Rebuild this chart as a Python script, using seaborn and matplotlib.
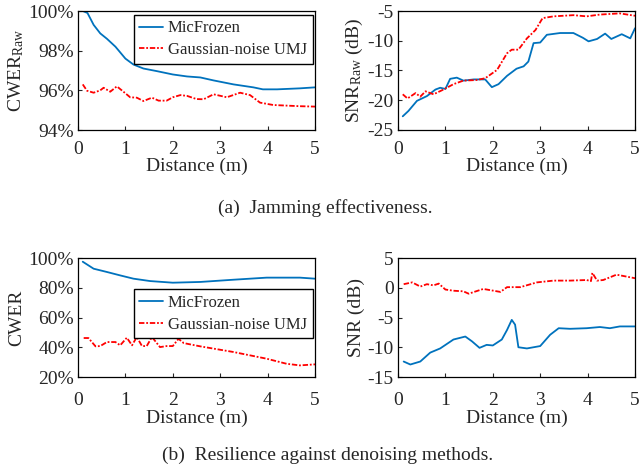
import pandas as pd
import matplotlib
matplotlib.use("Agg")
import matplotlib.pyplot as plt
import matplotlib.ticker as mtick
import seaborn as sns

# (a) jamming effectiveness - CWER_raw
mf_x_a = [0.1, 0.2, 0.33, 0.47, 0.61, 0.79, 1.0, 1.17, 1.38, 1.66, 2.0, 2.3, 2.58, 2.86, 3.28, 3.7, 3.9, 4.2, 4.68, 5.0]
mf_y_a = [100.0, 99.9, 99.3, 98.87, 98.6, 98.2, 97.6, 97.3, 97.1, 96.97, 96.8, 96.7, 96.65, 96.5, 96.3, 96.15, 96.05, 96.05, 96.1, 96.15]
ug_x_a = [0.1, 0.19, 0.33, 0.47, 0.54, 0.68, 0.82, 1.0, 1.1, 1.24, 1.38, 1.56, 1.7, 1.87, 2.0, 2.16, 2.3, 2.5, 2.65,
          2.86, 3.14, 3.42, 3.63, 3.84, 4.12, 4.68, 5.0]
ug_y_a = [96.3, 95.98, 95.88, 96.0, 96.13, 95.93, 96.2, 95.85, 95.65, 95.63, 95.46, 95.63, 95.48, 95.48, 95.65, 95.76,
          95.72, 95.56, 95.55, 95.8, 95.65, 95.88, 95.76, 95.38, 95.26, 95.2, 95.18]

# (a) SNR_raw
mf_x_b = [0.1, 0.22, 0.4, 0.61, 0.79, 0.89, 1.0, 1.1, 1.24, 1.38, 1.6, 1.84, 1.98, 2.12, 2.3, 2.5, 2.65, 2.75, 2.86,
          3.0, 3.14, 3.42, 3.7, 3.9, 4.02, 4.2, 4.37, 4.5, 4.72, 4.9, 5.0]
mf_y_b = [-22.7, -21.8, -20.1, -19.3, -18.2, -17.9, -18.1, -16.4, -16.2, -16.7, -16.5, -16.5, -17.8, -17.3, -15.9,
          -14.7, -14.3, -13.5, -10.4, -10.3, -9.0, -8.7, -8.7, -9.5, -10.1, -9.7, -8.8, -9.7, -8.9, -9.6, -7.9]
ug_x_b = [0.1, 0.2, 0.37, 0.47, 0.58, 0.75, 0.96, 1.17, 1.38, 1.66, 1.84, 2.09, 2.3, 2.4, 2.54, 2.72, 2.9, 3.05,
          3.28, 3.7, 3.98, 4.26, 4.68, 5.0]
ug_y_b = [-19.0, -19.7, -18.8, -19.4, -18.5, -19.0, -18.2, -17.3, -16.7, -16.6, -16.3, -14.9, -12.1, -11.5, -11.5,
          -9.6, -8.2, -6.2, -5.9, -5.7, -5.9, -5.6, -5.4, -5.8]

# (b) resilience - CWER
mf_x_c = [0.1, 0.33, 0.61, 0.89, 1.17, 1.52, 2.0, 2.58, 3.28, 3.98, 4.68, 5.0]
mf_y_c = [97.5, 92.8, 90.6, 88.3, 86.1, 84.5, 83.4, 83.9, 85.4, 86.8, 86.8, 86.1]
ug_x_c = [0.12, 0.22, 0.37, 0.47, 0.61, 0.79, 0.89, 1.03, 1.14, 1.24, 1.35, 1.45, 1.56, 1.73, 1.87, 2.0, 2.12, 2.23,
          2.58, 3.28, 3.98, 4.4, 4.68, 5.0]
ug_y_c = [46.2, 46.2, 40.6, 40.8, 43.5, 43.5, 41.3, 46.4, 41.3, 46.9, 40.8, 40.8, 46.9, 40.1, 40.8, 40.8, 45.7, 42.8,
          40.6, 36.8, 32.3, 28.9, 27.8, 28.5]

# (b) SNR
mf_x_d = [0.12, 0.26, 0.47, 0.68, 0.89, 1.17, 1.42, 1.56, 1.72, 1.87, 2.0, 2.19, 2.3, 2.4, 2.47, 2.54, 2.72, 3.0,
          3.21, 3.39, 3.63, 3.98, 4.26, 4.47, 4.68, 5.0]
mf_y_d = [-12.4, -12.9, -12.4, -10.9, -10.2, -8.7, -8.2, -9.0, -10.1, -9.6, -9.7, -8.7, -7.1, -5.4, -6.2, -10.0,
          -10.2, -9.8, -7.9, -6.8, -6.9, -6.8, -6.6, -6.8, -6.5, -6.5]
ug_x_d = [0.12, 0.3, 0.47, 0.61, 0.75, 0.86, 1.0, 1.17, 1.38, 1.49, 1.8, 2.16, 2.3, 2.58, 2.93, 3.28, 3.63, 3.98,
          4.07, 4.1, 4.2, 4.33, 4.61, 5.0]
ug_y_d = [0.6, 0.9, 0.2, 0.6, 0.4, 0.7, -0.3, -0.5, -0.6, -1.0, -0.2, -0.7, 0.1, 0.1, 0.9, 1.2, 1.2, 1.3, 1.1, 2.5,
          1.2, 1.3, 2.2, 1.6]

labels = ["MicFrozen", "Gaussian-noise UMJ"]
colors = {"MicFrozen": "#0072BD", "Gaussian-noise UMJ": "#FF0000"}
dashes = {"MicFrozen": "", "Gaussian-noise UMJ": (3, 1, 1, 1)}

sns.set_style("ticks", {"xtick.direction": "in", "ytick.direction": "in"})
plt.rcParams["font.family"] = ["Liberation Serif", "DejaVu Serif"]
plt.rcParams["mathtext.fontset"] = "custom"
plt.rcParams["mathtext.rm"] = "Liberation Serif"
plt.rcParams["mathtext.it"] = "Liberation Serif:italic"
plt.rcParams["axes.unicode_minus"] = False


def make_df(xm, ym, xu, yu):
    a = pd.DataFrame({"x": xm, "y": ym, "method": labels[0]})
    b = pd.DataFrame({"x": xu, "y": yu, "method": labels[1]})
    return pd.concat([a, b], ignore_index=True)


fig = plt.figure(figsize=(6.39, 4.69), dpi=100)
W, H = 639, 469
w, h = 237 / W, 119 / H
ax1 = fig.add_axes([78 / W, 1 - 130 / H, w, h])
ax2 = fig.add_axes([398 / W, 1 - 130 / H, w, h])
ax3 = fig.add_axes([78 / W, 1 - 377 / H, w, h])
ax4 = fig.add_axes([398 / W, 1 - 377 / H, w, h])

panels = [
    (ax1, make_df(mf_x_a, mf_y_a, ug_x_a, ug_y_a), 8),
    (ax2, make_df(mf_x_b, mf_y_b, ug_x_b, ug_y_b), 8),
    (ax3, make_df(mf_x_c, mf_y_c, ug_x_c, ug_y_c), 11),
    (ax4, make_df(mf_x_d, mf_y_d, ug_x_d, ug_y_d), 11),
]
for ax, df, xpad in panels:
    sns.lineplot(data=df, x="x", y="y", hue="method", style="method", palette=colors,
                 dashes=dashes, estimator=None, sort=True, linewidth=1.3, ax=ax, legend=False)
    ax.set_xlim(0, 5)
    ax.set_xticks([0, 1, 2, 3, 4, 5])
    ax.set_xlabel("Distance (m)", fontsize=14, labelpad=0)
    ax.tick_params(labelsize=14, length=3, width=0.8, pad=3)
    ax.tick_params(axis="x", pad=xpad)
    for s in ax.spines.values():
        s.set_visible(True)
        s.set_color("black")
        s.set_linewidth(0.9)

ax1.set_ylim(94, 100)
ax1.set_yticks([94, 96, 98, 100])
ax1.yaxis.set_major_formatter(mtick.PercentFormatter(decimals=0))
ax1.set_ylabel(r"CWER$_{\mathrm{Raw}}$", fontsize=14, labelpad=2)

ax2.set_ylim(-25, -5)
ax2.set_yticks([-25, -20, -15, -10, -5])
ax2.set_ylabel(r"SNR$_{\mathrm{Raw}}$ (dB)", fontsize=14, labelpad=2)

ax3.set_ylim(20, 100)
ax3.set_yticks([20, 40, 60, 80, 100])
ax3.yaxis.set_major_formatter(mtick.PercentFormatter(decimals=0))
ax3.set_ylabel("CWER", fontsize=14, labelpad=2)

ax4.set_ylim(-15, 5)
ax4.set_yticks([-15, -10, -5, 0, 5])
ax4.set_ylabel("SNR (dB)", fontsize=14, labelpad=2)

handles = [plt.Line2D([], [], color=colors[l], linewidth=1.3,
                      linestyle="-" if l == labels[0] else (0, (3, 1, 1, 1))) for l in labels]
for ax, anchor in [(ax1, (0.99, 0.97)), (ax3, (0.99, 0.74))]:
    ax.legend(handles, labels, loc="upper right", bbox_to_anchor=anchor, fontsize=12,
              frameon=True, fancybox=False, edgecolor="black", framealpha=1,
              handlelength=1.4, handletextpad=0.3, borderpad=0.35, labelspacing=0.35,
              borderaxespad=0)

fig.text(325 / W, 1 - 208 / H, "(a)  Jamming effectiveness.", ha="center", va="center", fontsize=14)
fig.text(328 / W, 1 - 455 / H, "(b)  Resilience against denoising methods.", ha="center", va="center", fontsize=14)

fig.savefig("out.png", dpi=100)
